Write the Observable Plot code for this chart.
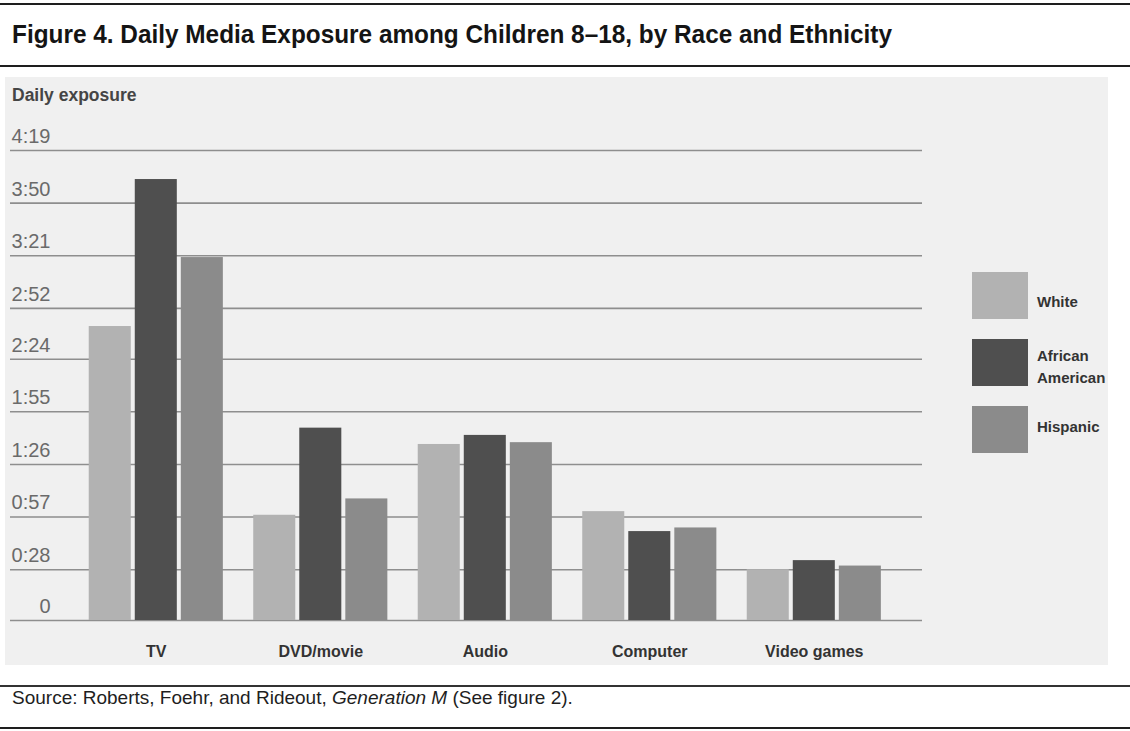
<!DOCTYPE html>
<html>
<head>
<meta charset="utf-8">
<script src="https://cdn.jsdelivr.net/npm/d3@7"></script>
<script src="https://cdn.jsdelivr.net/npm/@observablehq/plot@0.6"></script>
<style>
  html, body { margin: 0; padding: 0; background: #ffffff; }
  #page { position: relative; width: 1130px; height: 731px; overflow: hidden; font-family: "Liberation Sans", Arial, sans-serif; }
  .rule { position: absolute; left: 0; width: 1130px; background: #1e1e1e; }
  #panel { position: absolute; left: 5px; top: 77px; width: 1103px; height: 588px; background: #f0f0f0; }
  #ylabel { position: absolute; left: 12px; top: 86px; font: bold 17.5px "Liberation Sans", Arial, sans-serif; color: #454545; line-height: 18px; }
  .layer { position: absolute; left: 0; top: 110px; }
  #legend { position: absolute; left: 972px; top: 272px; }
  .item { position: absolute; left: 0; width: 160px; height: 48px; }
  .sw { position: absolute; left: 0; top: 0; width: 56px; height: 47px; }
  .lab { position: absolute; left: 65px; font: bold 15px "Liberation Sans", Arial, sans-serif; color: #333; line-height: 22px; }
  #source { position: absolute; left: 12px; top: 688px; font: 19px "Liberation Sans", Arial, sans-serif; color: #1e1e1e; line-height: 19px; }
</style>
</head>
<body>
<div id="page">
  <div class="rule" style="top:3px;height:2px;"></div>
  <svg id="title" width="1130" height="60" style="position:absolute;left:0;top:0;">
    <text x="12" y="43" textLength="880" lengthAdjust="spacingAndGlyphs" font-family="'Liberation Sans Narrow', 'Liberation Sans', Arial, sans-serif" font-weight="bold" font-size="26" fill="#141414">Figure 4. Daily Media Exposure among Children 8–18, by Race and Ethnicity</text>
  </svg>
  <div class="rule" style="top:65px;height:2px;"></div>
  <div id="panel"></div>
  <div id="ylabel">Daily exposure</div>
  <div id="grid" class="layer"></div>
  <div id="chart" class="layer"></div>
  <div id="legend"></div>
  <div class="rule" style="top:685px;height:2px;background:#333;"></div>
  <div id="source">Source: Roberts, Foehr, and Rideout, <i>Generation M</i> (See figure 2).</div>
  <div class="rule" style="top:727px;height:2px;"></div>
</div>
<script>
// ---- data (minutes per day) ----
const categories = ["TV", "DVD/movie", "Audio", "Computer", "Video games"];
const races = ["White", "African American", "Hispanic"];
const whiteValues = [162, 58, 97, 60, 28];
const africanAmericanValues = [243, 106, 102, 49, 33];
const hispanicValues = [200, 67, 98, 51, 30];
const tickLabels = ["0", "0:28", "0:57", "1:26", "1:55", "2:24", "2:52", "3:21", "3:50", "4:19"];
const colors = ["#b2b2b2", "#4f4f4f", "#8b8b8b"];

const seriesValues = [whiteValues, africanAmericanValues, hispanicValues];
const data = [];
categories.forEach((c, i) => {
  races.forEach((r, j) => data.push({category: c, race: r, value: seriesValues[j][i]}));
});
const tickMinutes = tickLabels.map(s => {
  const p = s.split(":");
  return p.length === 2 ? (+p[0]) * 60 + (+p[1]) : +p[0];
});
const yDomain = [0, tickMinutes[tickMinutes.length - 1]];

const frame = {
  width: 930, height: 555,
  marginLeft: 10, marginRight: 8, marginTop: 40, marginBottom: 45,
  style: {background: "transparent", fontFamily: "'Liberation Sans', Arial, sans-serif", overflow: "visible"}
};

// grid lines and y tick labels spanning the whole plot width
const grid = Plot.plot({
  ...frame,
  y: {domain: yDomain, axis: null},
  marks: [
    Plot.ruleY(tickMinutes, {y: d => d, stroke: "#8e8e8e", strokeWidth: 1.6}),
    Plot.text(tickMinutes, {y: d => d, text: (d, i) => tickLabels[i], frameAnchor: "left", dx: 40, dy: -14, textAnchor: "end", fontSize: 20, fill: "#6a6a6a"})
  ]
});
document.getElementById("grid").appendChild(grid);

// grouped bars
const chart = Plot.plot({
  ...frame,
  fx: {domain: categories, paddingInner: 0, paddingOuter: 0.272, align: 0.71, round: false, label: null},
  x: {domain: races, axis: null, paddingInner: 0.087, paddingOuter: 0.33, round: false},
  y: {domain: yDomain, axis: null},
  color: {domain: races, range: colors},
  marks: [
    Plot.barY(data, {fx: "category", x: "race", y: "value", fill: "race"}),
    Plot.axisFx({anchor: "bottom", tickSize: 0, tickPadding: 25, label: null, fontSize: 16, fontWeight: "bold", fill: "#333"})
  ]
});
document.getElementById("chart").appendChild(chart);

// ---- legend built from the plot's color scale ----
const colorScale = chart.scale("color");
const legend = document.getElementById("legend");
const legendLabels = [["White"], ["African", "American"], ["Hispanic"]];
const labelOffsets = [19, 6, 10];
races.forEach((r, i) => {
  const item = document.createElement("div");
  item.className = "item";
  item.style.top = (i * 67) + "px";
  const sw = document.createElement("div");
  sw.className = "sw";
  sw.style.background = colorScale.apply(r);
  item.appendChild(sw);
  const lab = document.createElement("div");
  lab.className = "lab";
  lab.innerHTML = legendLabels[i].join("<br>");
  lab.style.top = labelOffsets[i] + "px";
  item.appendChild(lab);
  legend.appendChild(item);
});
</script>
</body>
</html>
